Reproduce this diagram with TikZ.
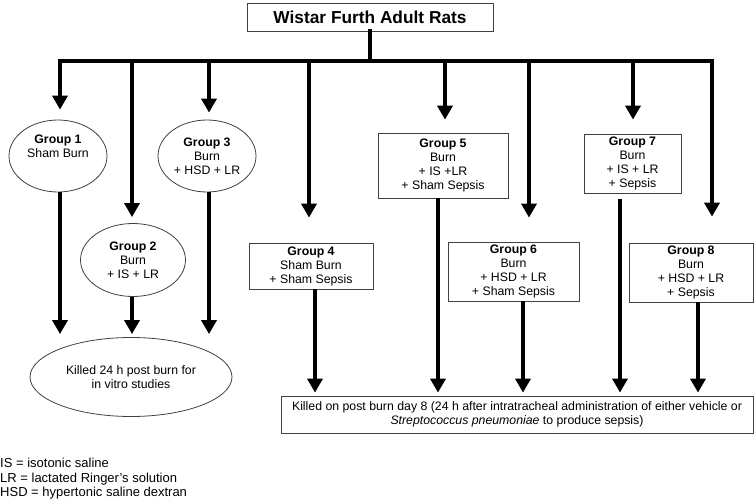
\documentclass[tikz,border=0pt]{standalone}
\usepackage{fontspec}
\setmainfont{Liberation Sans}
\usepackage{tikz}
\usetikzlibrary{positioning, shapes.geometric, arrows.meta}

\begin{document}
\begin{tikzpicture}[
    x=1pt, y=-1pt,
    grpbox/.style={rectangle, draw=black!75, line width=0.8pt, align=center, font=\fontsize{12.3}{14}\selectfont, inner sep=2pt},
    grpoval/.style={ellipse, draw=black!75, line width=0.8pt, align=center, font=\fontsize{12.3}{14}\selectfont, inner sep=0pt},
    flow/.style={-{Triangle[length=14pt, width=15pt]}, line width=4pt},
    trunk/.style={line width=4pt, line cap=rect}
]
    \useasboundingbox (0,0) rectangle (756,503);

    % Top of the tree
    \node[grpbox, minimum width=246pt, minimum height=28pt, font=\fontsize{17.3}{20}\selectfont\bfseries] (title) at (370,17) {Wistar Furth Adult Rats};

    % Branch points on the horizontal bar
    \coordinate (b1) at (60,61);
    \coordinate (b2) at (132,61);
    \coordinate (b3) at (209,61);
    \coordinate (b4) at (309,61);
    \coordinate (b5) at (445,61);
    \coordinate (b6) at (529,61);
    \coordinate (b7) at (633,61);
    \coordinate (b8) at (712,61);

    % Groups
    \node[grpoval, minimum width=98pt, minimum height=72pt] (g1) at (58,156) {\textbf{Group 1}\\Sham Burn\\[6pt]};
    \node[grpoval, minimum width=105pt, minimum height=73pt] (g2) at (133,260) {\textbf{Group 2}\\Burn\\+ IS + LR};
    \node[grpoval, minimum width=98pt, minimum height=72pt] (g3) at (207,156) {\textbf{Group 3}\\Burn\\+ HSD + LR};
    \node[grpbox, minimum width=124pt, minimum height=46pt] (g4) at (311,266) {\textbf{Group 4}\\Sham Burn\\+ Sham Sepsis};
    \node[grpbox, minimum width=130pt, minimum height=65pt] (g5) at (443,165.5) {\textbf{Group 5}\\Burn\\+ IS +LR\\+ Sham Sepsis};
    \node[grpbox, minimum width=131pt, minimum height=59pt] (g6) at (513.5,271.5) {\textbf{Group 6}\\Burn\\+ HSD + LR\\+ Sham Sepsis};
    \node[grpbox, minimum width=97pt, minimum height=59pt] (g7) at (632.5,163.5) {\textbf{Group 7}\\Burn\\+ IS + LR\\+ Sepsis};
    \node[grpbox, minimum width=124pt, minimum height=59pt] (g8) at (691,272.5) {\textbf{Group 8}\\Burn\\+ HSD + LR\\+ Sepsis};

    % Outcomes
    \node[grpoval, minimum width=202pt, minimum height=79pt] (k24) at (131,377) {Killed 24 h post burn for\\in vitro studies};
    \node[grpbox, minimum width=472pt, minimum height=37pt] (k8) at (517,414.5) {Killed on post burn day 8 (24 h after intratracheal administration of either vehicle or\\\textit{Streptococcus pneumoniae} to produce sepsis)};

    % Legend
    \node[anchor=west, align=left, inner sep=0pt, font=\fontsize{13}{14.5}\selectfont] (legend) at (0,479) {IS = isotonic saline\\LR = lactated Ringer's solution\\HSD = hypertonic saline dextran};

    % Bar
    \draw[trunk] (title.south) -- (title.south |- b1);
    \draw[trunk] (b1) -- (b8);

    % Arrows to the groups
    \draw[flow, shorten >=10pt] (b1) -- (b1 |- g1.north);
    \draw[flow, shorten >=6pt] (b2) -- (b2 |- g2.north);
    \draw[flow, shorten >=7pt] (b3) -- (b3 |- g3.north);
    \draw[flow, shorten >=25pt] (b4) -- (b4 |- g4.north);
    \draw[flow, shorten >=13pt] (b5) -- (b5 |- g5.north);
    \draw[flow, shorten >=24pt] (b6) -- (b6 |- g6.north);
    \draw[flow, shorten >=14pt] (b7) -- (b7 |- g7.north);
    \draw[flow, shorten >=26pt] (b8) -- (b8 |- g8.north);

    % Arrows to the outcomes
    \draw[flow, shorten >=3pt] ([xshift=2pt]g1.south) -- ([xshift=2pt]g1.south |- k24.north);
    \draw[flow, shorten >=3pt] ([xshift=-1pt]g2.south) -- ([xshift=-1pt]g2.south |- k24.north);
    \draw[flow, shorten >=3pt] ([xshift=2pt]g3.south) -- ([xshift=2pt]g3.south |- k24.north);
    \draw[flow, shorten >=3pt] ([xshift=4pt]g4.south) -- ([xshift=4pt]g4.south |- k8.north);
    \draw[flow, shorten >=3pt] ([xshift=-5pt]g5.south) -- ([xshift=-5pt]g5.south |- k8.north);
    \draw[flow, shorten >=3pt] ([xshift=9.5pt]g6.south) -- ([xshift=9.5pt]g6.south |- k8.north);
    \draw[flow, shorten <=6pt, shorten >=3pt] ([xshift=-12.5pt]g7.south) -- ([xshift=-12.5pt]g7.south |- k8.north);
    \draw[flow, shorten >=3pt] ([xshift=7pt]g8.south) -- ([xshift=7pt]g8.south |- k8.north);
\end{tikzpicture}
\end{document}
